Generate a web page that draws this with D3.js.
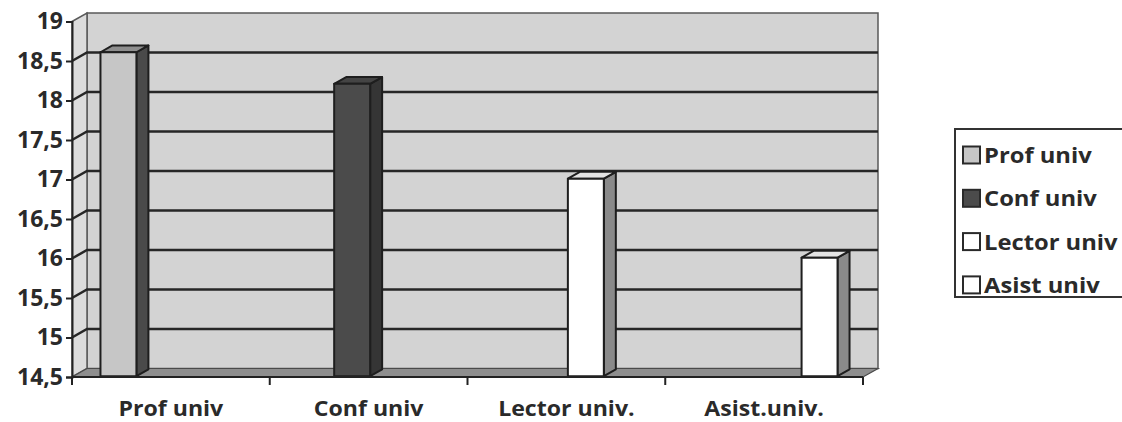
<!DOCTYPE html>
<html>
<head>
<meta charset="utf-8">
<script src="https://cdn.jsdelivr.net/npm/d3@7"></script>
<style>
  html, body { margin: 0; padding: 0; background: #fff; }
  svg { display: block; font-family: "Open Sans", sans-serif; }
</style>
</head>
<body>
<svg id="svg"></svg>
<script>
// categories on the x axis, one series per category (Excel clustered 3D column)
const categories = ["Prof univ", "Conf univ", "Lector univ.", "Asist.univ."];
const series = ["Prof univ", "Conf univ", "Lector univ", "Asist univ"];
const values = [18.6, 18.2, 17, 16];
const yTicks = [14.5, 15, 15.5, 16, 16.5, 17, 17.5, 18, 18.5, 19];

const width = 1122, height = 422;
const depth = { dx: 15, dy: -8.5 };   // 3D offset from front plane to back wall
const barZ = [0.1, 0.9];              // bar depth inside the box

// per-series face colours: front, side, top
const faces = [
    { front: '#c6c6c6', side: '#4a4a4a', top: '#8e8e8e' },
    { front: '#4b4b4b', side: '#353535', top: '#444444' },
    { front: '#ffffff', side: '#8a8a8a', top: '#e4e4e4' },
    { front: '#ffffff', side: '#8a8a8a', top: '#e4e4e4' },
];

const x = d3.scaleBand().domain(categories).range([72, 863]);
const xs = d3.scaleBand().domain(d3.range(series.length)).range([0, x.bandwidth()]).paddingOuter(0.75);
const y = d3.scaleLinear().domain([14.5, 19]).range([377, 21.5]);

const P = (px, py, z) => [px + depth.dx * z, py + depth.dy * z];
const poly = pts => 'M' + pts.map(p => p.join(',')).join('L') + 'Z';

const svg = d3.select('#svg')
    .attr('width', width)
    .attr('height', height)
    .attr('viewBox', [0, 0, width, height]);

const [x0, x1] = x.range();
const yTop = y(19), yBot = y(14.5);

// walls
svg.append('path')
    .attr('d', poly([P(x0, yTop, 1), P(x1, yTop, 1), P(x1, yBot, 1), P(x0, yBot, 1)]))
    .attr('fill', '#d3d3d3')
    .attr('stroke', '#5a5a5a')
    .attr('stroke-width', 1.5);

svg.append('path')
    .attr('d', poly([P(x0, yTop, 0), P(x0, yTop, 1), P(x0, yBot, 1), P(x0, yBot, 0)]))
    .attr('fill', '#dcdcdc')
    .attr('stroke', '#5a5a5a')
    .attr('stroke-width', 1.5);

// gridlines on back wall and side wall
const grid = svg.append('g')
    .attr('fill', 'none')
    .attr('stroke', '#262626')
    .attr('stroke-width', 2.5);

grid.selectAll('path')
    .data(yTicks.filter(t => t > 14.5 && t < 19))
    .join('path')
        .attr('d', t => 'M' + P(x0, y(t), 0) + 'L' + P(x0, y(t), 1) + 'L' + P(x1, y(t), 1));

// floor
svg.append('path')
    .attr('d', poly([P(x0, yBot, 0), P(x1, yBot, 0), P(x1, yBot, 1), P(x0, yBot, 1)]))
    .attr('fill', '#8e8e8e')
    .attr('stroke', '#4a4a4a')
    .attr('stroke-width', 1.2);

// bars
const bars = svg.append('g')
    .selectAll('g')
    .data(values.map((v, i) => ({ v, i })))
    .join('g')
        .attr('stroke', '#1e1e1e')
        .attr('stroke-width', 2)
        .attr('stroke-linejoin', 'round');

const bx0 = d => x(categories[d.i]) + xs(d.i);
const bx1 = d => bx0(d) + xs.bandwidth();

bars.append('path')
    .attr('fill', d => faces[d.i].side)
    .attr('d', d => poly([P(bx1(d), y(d.v), barZ[0]), P(bx1(d), y(d.v), barZ[1]), P(bx1(d), yBot, barZ[1]), P(bx1(d), yBot, barZ[0])]));

bars.append('path')
    .attr('fill', d => faces[d.i].top)
    .attr('d', d => poly([P(bx0(d), y(d.v), barZ[0]), P(bx0(d), y(d.v), barZ[1]), P(bx1(d), y(d.v), barZ[1]), P(bx1(d), y(d.v), barZ[0])]));

bars.append('path')
    .attr('fill', d => faces[d.i].front)
    .attr('d', d => poly([P(bx0(d), y(d.v), barZ[0]), P(bx1(d), y(d.v), barZ[0]), P(bx1(d), yBot, barZ[0]), P(bx0(d), yBot, barZ[0])]));

// axes (front plane)
const yAxis = svg.append('g')
    .attr('transform', `translate(${x0},0)`)
    .call(d3.axisLeft(y).tickValues(yTicks).tickSize(6).tickFormat(d => String(d).replace('.', ',')))
    .attr('font-family', '"Open Sans", sans-serif');

yAxis.select('.domain').attr('stroke', '#222').attr('stroke-width', 2);
yAxis.selectAll('.tick line').attr('stroke', '#222').attr('stroke-width', 2);
yAxis.selectAll('.tick text')
    .attr('x', -9)
    .attr('fill', '#2a2a2a')
    .attr('font-size', 23)
    .attr('font-weight', 700);

const xAxis = svg.append('g')
    .attr('transform', `translate(0,${yBot})`);

xAxis.append('line')
    .attr('x1', x0).attr('x2', x1)
    .attr('stroke', '#222').attr('stroke-width', 2);

xAxis.selectAll('line.tk')
    .data(categories.map(c => x(c)).concat([x1]))
    .join('line')
        .attr('class', 'tk')
        .attr('x1', d => d).attr('x2', d => d)
        .attr('y1', 0).attr('y2', 8)
        .attr('stroke', '#222').attr('stroke-width', 2);

xAxis.selectAll('text')
    .data(categories)
    .join('text')
        .attr('transform', d => `translate(${x(d) + x.bandwidth() / 2},39) scale(1.1,1)`)
        .attr('text-anchor', 'middle')
        .attr('fill', '#2a2a2a')
        .attr('font-size', 21)
        .attr('font-weight', 700)
        .text(d => d);

// legend
const legend = svg.append('g');
legend.append('rect')
    .attr('x', 955).attr('y', 129)
    .attr('width', 190).attr('height', 168)
    .attr('fill', '#fff')
    .attr('stroke', '#333')
    .attr('stroke-width', 2);

const item = legend.selectAll('g')
    .data(series)
    .join('g')
        .attr('transform', (_d, i) => `translate(963,${155 + i * 43.3})`);

item.append('rect')
    .attr('x', 0).attr('y', -8.5)
    .attr('width', 17).attr('height', 17)
    .attr('fill', (_d, i) => faces[i].front)
    .attr('stroke', '#2a2a2a')
    .attr('stroke-width', 2);

item.append('text')
    .attr('transform', 'translate(21,8) scale(1.08,1)')
    .attr('fill', '#2a2a2a')
    .attr('font-size', 22)
    .attr('font-weight', 700)
    .text(d => d);
</script>
</body>
</html>
